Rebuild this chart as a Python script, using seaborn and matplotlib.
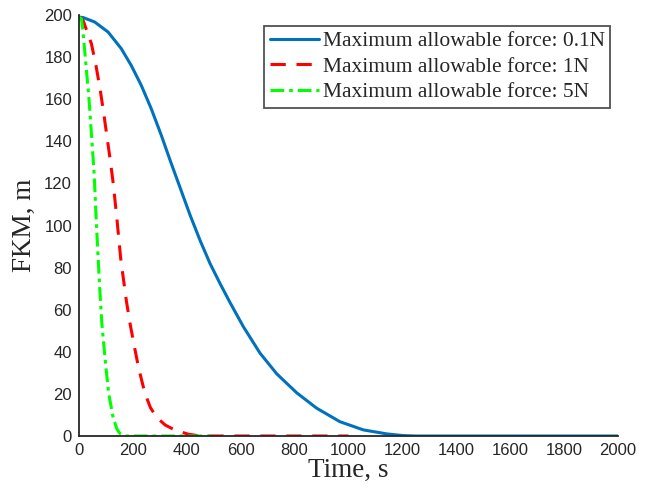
import matplotlib
matplotlib.use("Agg")
import matplotlib.pyplot as plt
import seaborn as sns
import pandas as pd

# Data
t_01 = [0, 15, 58, 108, 157, 194, 231, 268, 305, 338, 375, 412, 449, 486, 523,
        560, 610, 672, 734, 808, 882, 968, 1055, 1142, 1203, 1250, 2000]
y_01 = [199, 198.8, 196.7, 191.9, 184, 176, 166.6, 155.5, 143, 131, 118, 105, 93, 82, 72.5,
        63.5, 51.9, 39.3, 29.5, 20.5, 13.2, 6.8, 2.9, 1, 0.2, 0, 0]

t_1 = [0, 15, 46, 64, 79, 92, 104, 116, 127, 140, 155, 176, 190, 207, 221, 244,
       265, 287, 320, 355, 404, 450, 1000]
y_1 = [199, 197.5, 186.4, 175.3, 164.2, 153.1, 142, 131, 120, 104, 84, 64, 53, 41.5, 32.5, 20.5,
       13.5, 9, 5.2, 2.9, 0.9, 0, 0]

t_5 = [0, 9, 15, 27, 36, 43, 49, 56, 63, 70, 77, 85, 98, 110, 126, 140, 151, 175, 500]
y_5 = [199, 198.2, 191.9, 174.5, 161.9, 149.2, 138.1, 125, 105, 87, 70, 53, 35, 20.3, 9.2,
       3.5, 1.3, 0, 0]

labels = ["Maximum allowable force: 0.1N",
          "Maximum allowable force: 1N",
          "Maximum allowable force: 5N"]

sns.set_theme(style="white")
plt.rcParams['font.family'] = ['Liberation Sans', 'DejaVu Sans']

fig = plt.figure(figsize=(6.5, 4.95), dpi=100)
ax = fig.add_axes([79/650, 59/495, (618-79)/650, (436-15)/495])

df01 = pd.DataFrame({"t": t_01, "y": y_01})
df1 = pd.DataFrame({"t": t_1, "y": y_1})
df5 = pd.DataFrame({"t": t_5, "y": y_5})

sns.lineplot(data=df01, x="t", y="y", ax=ax, color="#0072BD", lw=2.2,
             label=labels[0], sort=False)
sns.lineplot(data=df1, x="t", y="y", ax=ax, color="#FF0000", lw=2.2,
             label=labels[1], sort=False)
sns.lineplot(data=df5, x="t", y="y", ax=ax, color="#00FF00", lw=2.2,
             label=labels[2], sort=False)
for ln in ax.lines:
    ln.set_solid_joinstyle("round")
    ln.set_dash_joinstyle("round")
ax.lines[1].set_dashes([5, 3.5])
ax.lines[2].set_dashes([4.5, 1.6, 1.2, 1.6])

ax.set_xlim(0, 2000)
ax.set_ylim(0, 200)
ax.set_xticks(range(0, 2001, 200))
ax.set_yticks(range(0, 201, 20))

for s in ["top", "right"]:
    ax.spines[s].set_visible(False)
for s in ["left", "bottom"]:
    ax.spines[s].set_color("#262626")
    ax.spines[s].set_linewidth(1.3)

ax.tick_params(direction="in", length=5, width=1.2, color="#262626",
               labelsize=12, labelcolor="#262626", pad=5)

ax.set_xlabel("Time, s", family=["Liberation Serif"], fontsize=19.5, labelpad=0)
ax.set_ylabel("FKM, m", family=["Liberation Serif"], fontsize=19.5, labelpad=5.5)

leg = ax.legend(loc="upper right", bbox_to_anchor=(0.985, 0.974),
                prop={"family": "Liberation Serif", "size": 15.5},
                frameon=True, fancybox=False, edgecolor="#262626",
                handlelength=2.3, handletextpad=0.15, borderpad=0.25,
                labelspacing=0.25, borderaxespad=0)
leg.get_frame().set_linewidth(1.3)

fig.savefig("out.png", dpi=100)
